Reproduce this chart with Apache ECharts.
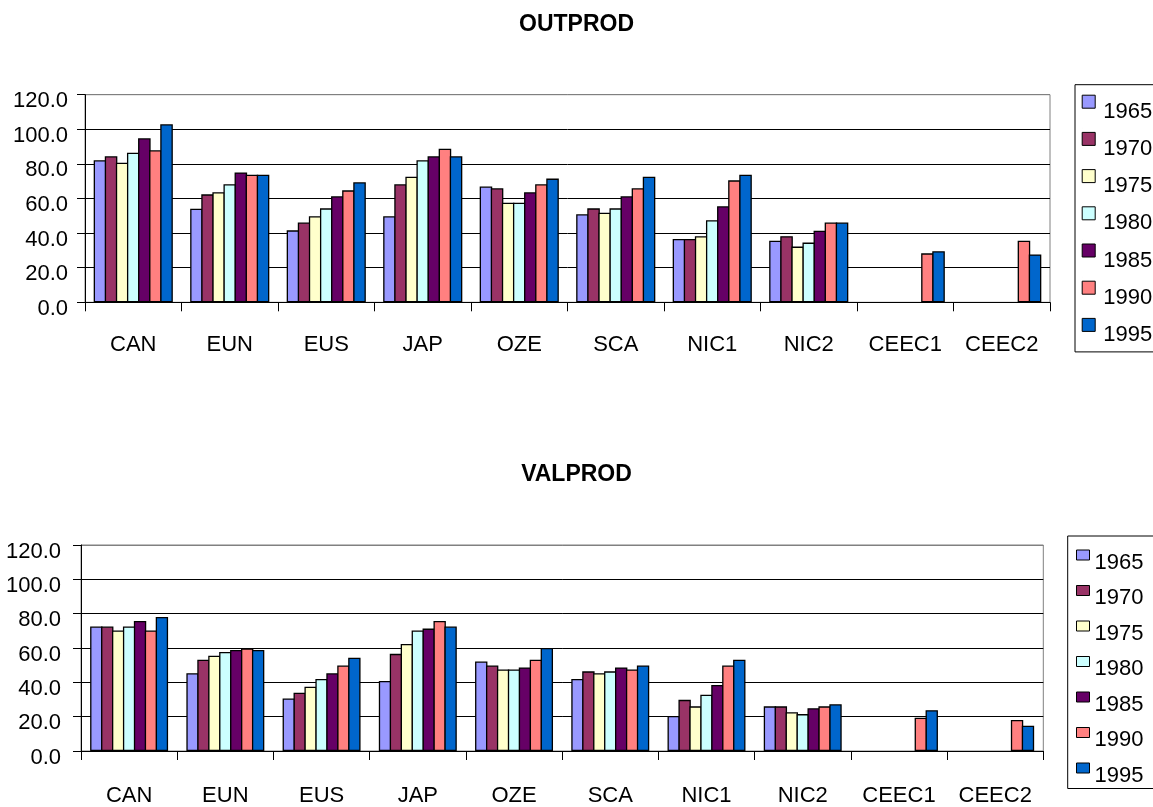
<!DOCTYPE html>
<html>
<head>
<meta charset="utf-8">
<script src="https://cdn.jsdelivr.net/npm/echarts@6/dist/echarts.min.js"></script>
<style>
html,body{margin:0;padding:0;background:#fff;}
#c{width:1153px;height:807px;}
</style>
</head>
<body>
<div id="c"></div>
<script>
const categories = ['CAN','EUN','EUS','JAP','OZE','SCA','NIC1','NIC2','CEEC1','CEEC2'];
const years = ['1965','1970','1975','1980','1985','1990','1995'];
const colors = ['#9999FF','#993366','#FFFFCC','#CCFFFF','#660066','#FF8080','#0066CC'];
const yMin = 0, yMax = 120, yStep = 20;

// OUTPROD values per year
const OUT_1965 = [82.1,54.1,41.6,49.7,66.9,50.9,36.6,35.6,null,null];
const OUT_1970 = [84.4,62.4,46.1,68.2,65.9,54.3,36.6,38.2,null,null];
const OUT_1975 = [80.7,63.6,49.7,72.6,57.6,51.8,38.2,32.2,null,null];
const OUT_1980 = [86.5,68.2,54.3,82.1,57.6,54.3,47.4,34.5,null,null];
const OUT_1985 = [94.8,75.1,61.3,84.4,63.6,61.3,55.5,41.4,null,null];
const OUT_1990 = [87.9,73.8,64.7,88.8,68.2,65.9,70.5,46.1,28.3,35.6];
const OUT_1995 = [102.9,73.8,69.4,84.4,71.5,72.6,73.8,46.1,29.5,27.7];

// VALPROD values per year
const VAL_1965 = [72.5,45.3,30.6,40.8,52.1,41.9,20.4,26.0,null,null];
const VAL_1970 = [72.5,53.2,34.0,56.6,49.8,46.4,29.8,26.0,null,null];
const VAL_1975 = [70.2,55.5,37.4,62.3,47.5,45.3,26.0,22.6,null,null];
const VAL_1980 = [72.5,57.7,41.9,70.2,47.5,46.4,32.8,21.5,null,null];
const VAL_1985 = [75.8,58.9,45.3,71.3,48.7,48.7,38.5,24.9,null,null];
const VAL_1990 = [70.2,59.8,49.8,75.8,53.2,47.5,49.8,26.0,19.4,18.1];
const VAL_1995 = [78.1,58.9,54.3,72.5,60.0,49.8,53.2,27.2,23.8,14.7];

const outData = [OUT_1965,OUT_1970,OUT_1975,OUT_1980,OUT_1985,OUT_1990,OUT_1995];
const valData = [VAL_1965,VAL_1970,VAL_1975,VAL_1980,VAL_1985,VAL_1990,VAL_1995];

const FONT = 'Arial, "Liberation Sans", sans-serif';
const FS = 22;

function xAxisCfg(gi, margin) {
  return {
    type: 'category', gridIndex: gi, data: categories,
    axisLine: {lineStyle: {color: '#000', width: 1}},
    axisTick: {show: true, length: 9, lineStyle: {color: '#000'}},
    axisLabel: {color: '#000', fontFamily: FONT, fontSize: FS, margin: margin, interval: 0}
  };
}
function yAxisCfg(gi, margin) {
  return {
    type: 'value', gridIndex: gi, min: yMin, max: yMax, interval: yStep,
    axisLine: {show: true, lineStyle: {color: '#000', width: 1}},
    axisTick: {show: true, length: 8, lineStyle: {color: '#000'}},
    axisLabel: {color: '#000', fontFamily: FONT, fontSize: FS, margin: margin,
      verticalAlign: 'top', lineHeight: 13,
      formatter: v => v.toFixed(1)},
    splitLine: {show: true, lineStyle: {color: ['#000','#000','#000','#000','#000','#000','#808080'], width: 1}}
  };
}

const series = [];
years.forEach((y, i) => {
  series.push({
    name: y, type: 'bar', xAxisIndex: 0, yAxisIndex: 0, data: outData[i],
    barGap: '-11.6%', barCategoryGap: '18%',
    itemStyle: {color: colors[i], borderColor: '#000', borderWidth: 1.3},
    emphasis: {disabled: true}
  });
});
years.forEach((y, i) => {
  series.push({
    name: y, type: 'bar', xAxisIndex: 1, yAxisIndex: 1, data: valData[i],
    barGap: '-11.6%', barCategoryGap: '19%',
    itemStyle: {color: colors[i], borderColor: '#000', borderWidth: 1.3},
    emphasis: {disabled: true}
  });
});

const chart = echarts.init(document.getElementById('c'), null, {renderer: 'canvas'});
chart.setOption({
  animation: false,
  backgroundColor: '#fff',
  title: [
    {text: 'OUTPROD', left: 'center', top: 13, padding: 0,
     textStyle: {fontFamily: FONT, fontSize: 23, fontWeight: 'bold', color: '#000'}},
    {text: 'VALPROD', left: 'center', top: 463, padding: 0,
     textStyle: {fontFamily: FONT, fontSize: 23, fontWeight: 'bold', color: '#000'}}
  ],
  grid: [
    {left: 85, right: 103, top: 94.7, height: 207.6, show: true, borderColor: '#808080', borderWidth: 1, backgroundColor: 'transparent'},
    {left: 81, right: 109.7, top: 545, height: 211.3, show: true, borderColor: '#808080', borderWidth: 1, backgroundColor: 'transparent'}
  ],
  xAxis: [xAxisCfg(0, 32), xAxisCfg(1, 34)],
  yAxis: [yAxisCfg(0, 17), yAxisCfg(1, 20)],
  legend: [
    {data: years, orient: 'vertical', left: 1075, top: 84.7,
     padding: [10, 12, 0, 6.7], itemGap: 3.2, itemWidth: 13, itemHeight: 33,
     icon: 'path://M0,0L13,0L13,13L0,13Z M0,33L0.01,33',
     itemStyle: {borderColor: '#000', borderWidth: 1},
     backgroundColor: '#fff', borderColor: '#000', borderWidth: 1, borderRadius: 0,
     selectedMode: false,
     textStyle: {fontFamily: FONT, fontSize: FS, color: '#000', padding: [0,0,0,3]}},
    {data: years, orient: 'vertical', left: 1067.7, top: 536,
     padding: [13.5, 12, 0, 8.3], itemGap: 9.5, itemWidth: 13, itemHeight: 25,
     icon: 'path://M0,0L13,0L13,10L0,10Z M0,25L0.01,25',
     itemStyle: {borderColor: '#000', borderWidth: 1},
     backgroundColor: '#fff', borderColor: '#000', borderWidth: 1, borderRadius: 0,
     selectedMode: false,
     textStyle: {fontFamily: FONT, fontSize: FS, color: '#000'}}
  ],
  series: series
});
</script>
</body>
</html>
